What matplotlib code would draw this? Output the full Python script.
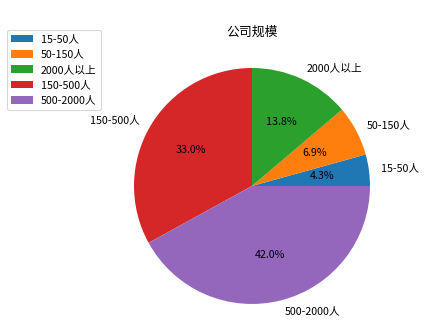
import matplotlib
matplotlib.use("Agg")
import matplotlib.pyplot as plt

plt.rcParams['font.family'] = ['Noto Sans CJK SC', 'DejaVu Sans']

labels = ['15-50人', '50-150人', '2000人以上', '150-500人', '500-2000人']
values = [4.3, 6.9, 13.8, 33.0, 42.0]
title = '公司规模'

DPI = 77
fig = plt.figure(figsize=(429 / DPI, 333 / DPI), dpi=DPI)
ax = fig.add_axes([0.2436, -0.0015, 0.6876, 0.886])
wedges, texts, autotexts = ax.pie(values, labels=labels, autopct='%1.1f%%')
ax.set_aspect('equal')
ax.set_title(title, fontsize=12, pad=2)
fig.legend(wedges, labels, loc='upper left', bbox_to_anchor=(0.016, 0.91), borderaxespad=0)
fig.savefig('out.png', dpi=DPI)
